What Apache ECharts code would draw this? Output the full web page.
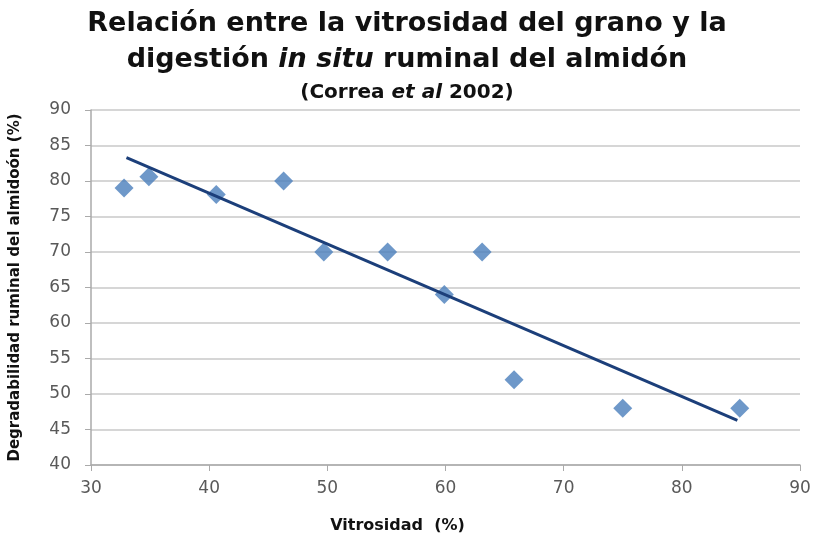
<!DOCTYPE html>
<html><head><meta charset="utf-8">
<script src="https://cdn.jsdelivr.net/npm/echarts@6/dist/echarts.min.js"></script>
<style>html,body{margin:0;padding:0;background:#fff}#c{width:814px;height:539px}</style>
</head><body><div id="c"></div>
<script>
var vitrosidad = [32.8, 34.9, 40.6, 46.3, 49.7, 55.1, 59.9, 63.1, 65.8, 75.0, 84.9];
var degradabilidad = [79.0, 80.6, 78.1, 80.0, 70.0, 70.0, 64.0, 70.0, 52.0, 48.0, 48.0];
var trendX = [33.0, 84.7];
var trendY = [83.3, 46.3];
var xTicks = [30, 40, 50, 60, 70, 80, 90];
var yTicks = [40, 45, 50, 55, 60, 65, 70, 75, 80, 85, 90];

var pts = vitrosidad.map(function(v, i){ return [v, degradabilidad[i]]; });
var trend = trendX.map(function(v, i){ return [v, trendY[i]]; });
var font = '"DejaVu Sans", "Open Sans", sans-serif';

var chart = echarts.init(document.getElementById('c'));
chart.setOption({
  animation: false,
  title: [{
    left: 'center', top: 1,
    text: '{b|Relación entre la vitrosidad del grano y la}\n{b|digestión }{i|in situ}{b| ruminal del almidón}',
    textStyle: {
      rich: {
        b: {fontFamily: font, fontWeight: 'bold', fontSize: 27, color: '#111', lineHeight: 36},
        i: {fontFamily: font, fontWeight: 'bold', fontStyle: 'italic', fontSize: 27, color: '#111', lineHeight: 36}
      }
    }
  }, {
    left: 'center', top: 78,
    text: '{b|(Correa }{i|et al}{b| 2002)}',
    textStyle: {
      rich: {
        b: {fontFamily: font, fontWeight: 'bold', fontSize: 20, color: '#111'},
        i: {fontFamily: font, fontWeight: 'bold', fontStyle: 'italic', fontSize: 20, color: '#111'}
      }
    }
  }],
  grid: {left: 89, right: 14, top: 110, bottom: 69},
  xAxis: {
    type: 'value', min: xTicks[0], max: xTicks[xTicks.length-1], interval: 10,
    name: 'Vitrosidad  (%)', nameLocation: 'middle', nameGap: 53,
    nameTextStyle: {fontFamily: font, fontWeight: 'bold', fontSize: 16, color: '#111', padding: [0, 96, 0, 0]},
    axisLine: {lineStyle: {color: '#aaa', width: 1.5}},
    axisTick: {show: true, length: 6, lineStyle: {color: '#aaa'}},
    axisLabel: {fontFamily: font, fontSize: 17, color: '#595959', margin: 15},
    splitLine: {show: false}
  },
  yAxis: {
    type: 'value', min: yTicks[0], max: yTicks[yTicks.length-1], interval: 5,
    name: 'Degradabilidad ruminal del almidoón (%)', nameLocation: 'middle', nameGap: 68,
    nameTextStyle: {fontFamily: font, fontWeight: 'bold', fontSize: 15, color: '#111'},
    axisLine: {show: true, lineStyle: {color: '#aaa', width: 1.5}},
    axisTick: {show: true, length: 6, lineStyle: {color: '#aaa'}},
    axisLabel: {fontFamily: font, fontSize: 17, color: '#595959', margin: 20},
    splitLine: {show: true, lineStyle: {color: '#c8c8c8', width: 1.5}}
  },
  series: [{
    type: 'scatter', data: pts, symbol: 'diamond', symbolSize: 19,
    itemStyle: {color: '#4A7EBB'}, z: 3
  }, {
    type: 'line', data: trend, showSymbol: false, symbol: 'none',
    lineStyle: {color: '#1C3F7A', width: 3}, z: 4
  }]
});
</script></body></html>
